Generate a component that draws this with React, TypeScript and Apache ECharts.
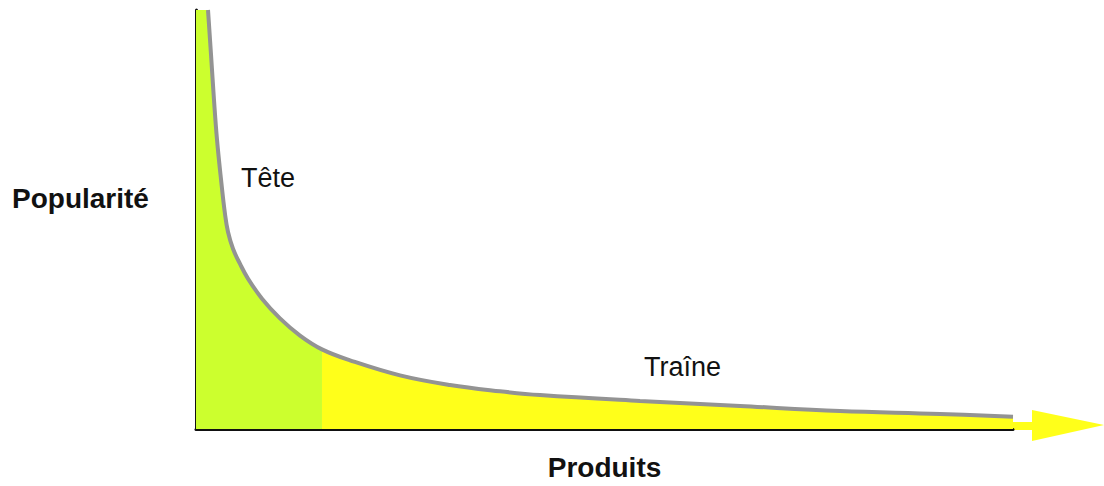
import React, { useEffect, useRef } from "react";
import * as echarts from "echarts";

// Product rank (0–100 along the x axis) and popularity (0–100)
const productRank = [1.47, 1.84, 2.2, 2.57, 3.06, 3.55, 3.92, 4.53, 5.39, 6.36, 8.08, 10.28, 12.73, 15.42, 18.85, 24.97, 31.09, 37.21, 42.11, 54.35, 66.59, 78.82, 91.06, 100];
const popularity = [100, 89.3, 78.6, 69.1, 59.6, 51.3, 47.0, 43.0, 39.4, 35.9, 31.1, 26.4, 22.3, 19.0, 16.4, 12.8, 10.5, 9.0, 8.1, 6.7, 5.5, 4.3, 3.6, 2.9];
const headEnd = 15.42; // boundary between "Tête" and "Traîne"
const labels = { head: "Tête", tail: "Traîne", x: "Produits", y: "Popularité" };

const GREEN = "#ccff2e";
const YELLOW = "#ffff1a";
const FONT = "'Liberation Sans', Arial, Helvetica, sans-serif";

export default function App() {
  const ref = useRef<HTMLDivElement>(null);
  useEffect(() => {
    if (!ref.current) return;
    const chart = echarts.init(ref.current, undefined, { renderer: "svg" });
    const curve = productRank.map((x, i) => [x, popularity[i]]);
    const head = [[0, 130], ...curve.filter((p) => p[0] <= headEnd)];
    const tail = curve.filter((p) => p[0] >= headEnd);
    const SMOOTH = 0.4;
    chart.setOption({
      animation: false,
      grid: { left: 196, right: 91, top: 10, bottom: 55 },
      xAxis: {
        type: "value",
        min: 0,
        max: 100,
        axisLine: { show: true, onZero: false, lineStyle: { color: "#111", width: 3 } },
        axisTick: { show: false },
        axisLabel: { show: false },
        splitLine: { show: false },
        name: labels.x,
        nameLocation: "middle",
        nameGap: 24,
        nameTextStyle: { fontSize: 28, fontWeight: "bold", color: "#111", fontFamily: FONT },
      },
      yAxis: {
        type: "value",
        min: 0,
        max: 100,
        axisLine: { show: true, onZero: false, lineStyle: { color: "#111", width: 3 } },
        axisTick: { show: false },
        axisLabel: { show: false },
        splitLine: { show: false },
      },
      series: [
        {
          type: "line",
          data: head,
          smooth: SMOOTH,
          symbol: "none",
          lineStyle: { width: 0 },
          areaStyle: { color: GREEN, opacity: 1 },
          z: 1,
        },
        {
          type: "line",
          data: tail,
          smooth: SMOOTH,
          symbol: "none",
          lineStyle: { width: 0 },
          areaStyle: { color: YELLOW, opacity: 1 },
          z: 1,
        },
        {
          type: "line",
          data: curve,
          smooth: SMOOTH,
          symbol: "none",
          lineStyle: { color: "#939393", width: 4 },
          z: 3,
        },
      ],
      graphic: [
        {
          type: "polygon",
          z: 0,
          shape: {
            points: [
              [1012, 422],
              [1032, 422],
              [1032, 410],
              [1104, 425],
              [1032, 441],
              [1032, 430],
              [1012, 430],
            ],
          },
          style: { fill: YELLOW },
        },
        {
          type: "text",
          left: 12,
          top: 184,
          style: { text: labels.y, font: `bold 28px ${FONT}`, fill: "#111" },
        },
        {
          type: "text",
          left: 241,
          top: 164,
          style: { text: labels.head, font: `27px ${FONT}`, fill: "#111" },
        },
        {
          type: "text",
          left: 644,
          top: 353,
          style: { text: labels.tail, font: `27px ${FONT}`, fill: "#111" },
        },
      ],
    });
    return () => chart.dispose();
  }, []);
  return (
    <div
      ref={ref}
      style={{ position: "fixed", left: 0, top: 0, width: 1104, height: 486, background: "#fff" }}
    />
  );
}
